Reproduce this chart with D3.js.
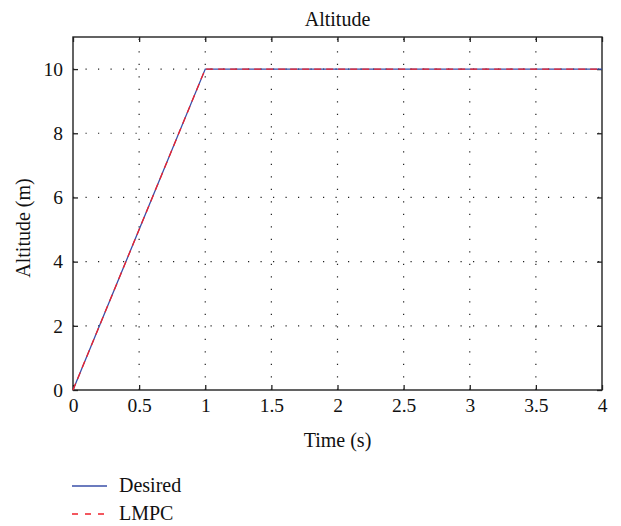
<!DOCTYPE html>
<html><head><meta charset="utf-8">
<script src="https://cdn.jsdelivr.net/npm/d3@7"></script>
<style>body{margin:0;background:#fff}svg{display:block}text{font-family:"Liberation Serif","DejaVu Serif",serif;fill:#111}</style>
</head><body>
<script>
const time = [0, 0.5, 1, 2, 3, 4];
const desired = [0, 5, 10, 10, 10, 10];
const lmpc = [0, 5, 10, 10, 10, 10];
const xTicks = [0, 0.5, 1, 1.5, 2, 2.5, 3, 3.5, 4];
const yTicks = [0, 2, 4, 6, 8, 10];
const seriesNames = ["Desired", "LMPC"];

const W = 621, H = 526;
const m = {l: 73, r: 602, t: 37, b: 390};
const FS = 19.5;
const svg = d3.select("body").append("svg").attr("width", W).attr("height", H);
const x = d3.scaleLinear().domain([0, 4]).range([m.l, m.r]);
const y = d3.scaleLinear().domain([0, 11]).range([m.b, m.t]);

// grid
const g = svg.append("g");
g.selectAll(".gx").data(xTicks.slice(1, -1)).join("line")
  .attr("x1", d => x(d)).attr("x2", d => x(d)).attr("y1", m.b).attr("y2", m.t)
  .attr("stroke", "#222").attr("stroke-width", 1.2).attr("stroke-dasharray", "1.2,11.3");
g.selectAll(".gy").data(yTicks.slice(1)).join("line")
  .attr("x1", m.l).attr("x2", m.r).attr("y1", d => y(d)).attr("y2", d => y(d))
  .attr("stroke", "#222").attr("stroke-width", 1.2).attr("stroke-dasharray", "1.2,11.3");

// axes with inward ticks
const fmt = d => String(d);
svg.append("g").attr("transform", `translate(0,${m.b})`)
  .call(d3.axisBottom(x).tickValues(xTicks).tickFormat(fmt).tickSizeInner(-5).tickSizeOuter(0).tickPadding(8))
  .call(a => { a.select(".domain").remove(); a.selectAll("text").attr("font-size", FS).attr("font-family", "Liberation Serif"); a.selectAll("line").attr("stroke", "#222").attr("stroke-width", 1.3); });
svg.append("g").attr("transform", `translate(0,${m.t})`)
  .call(d3.axisTop(x).tickValues(xTicks).tickFormat("").tickSizeInner(-5).tickSizeOuter(0))
  .call(a => { a.select(".domain").remove(); a.selectAll("line").attr("stroke", "#222").attr("stroke-width", 1.3); });
svg.append("g").attr("transform", `translate(${m.l},0)`)
  .call(d3.axisLeft(y).tickValues(yTicks).tickFormat(fmt).tickSizeInner(-5).tickSizeOuter(0).tickPadding(10))
  .call(a => { a.select(".domain").remove(); a.selectAll("text").attr("font-size", FS).attr("font-family", "Liberation Serif"); a.selectAll("line").attr("stroke", "#222").attr("stroke-width", 1.3); });
svg.append("g").attr("transform", `translate(${m.r},0)`)
  .call(d3.axisRight(y).tickValues(yTicks).tickFormat("").tickSizeInner(-5).tickSizeOuter(0))
  .call(a => { a.select(".domain").remove(); a.selectAll("line").attr("stroke", "#222").attr("stroke-width", 1.3); });

svg.append("rect").attr("x", m.l).attr("y", m.t).attr("width", m.r - m.l).attr("height", m.b - m.t)
  .attr("fill", "none").attr("stroke", "#222").attr("stroke-width", 1.4);

const line = d3.line().x((d, i) => x(time[i])).y(d => y(d));
svg.append("path").attr("d", line(desired)).attr("fill", "none").attr("stroke", "#3a4fa8").attr("stroke-width", 1.3);
svg.append("path").attr("d", line(lmpc)).attr("fill", "none").attr("stroke", "#f0202a").attr("stroke-width", 1.3).attr("stroke-dasharray", "7,5");

// labels
svg.append("text").attr("x", x(2)).attr("y", 26).attr("text-anchor", "middle").attr("font-size", 20).text("Altitude");
svg.append("text").attr("x", x(2)).attr("y", 447).attr("text-anchor", "middle").attr("font-size", 20).text("Time (s)");
svg.append("text").attr("transform", `translate(30,228) rotate(-90)`).attr("text-anchor", "middle").attr("font-size", 20).text("Altitude (m)");

// legend
const leg = svg.append("g");
const ly = [486, 514];
leg.append("line").attr("x1", 72).attr("x2", 107).attr("y1", ly[0]).attr("y2", ly[0]).attr("stroke", "#3a4fa8").attr("stroke-width", 1.3);
leg.append("line").attr("x1", 72).attr("x2", 107).attr("y1", ly[1]).attr("y2", ly[1]).attr("stroke", "#f0202a").attr("stroke-width", 1.3).attr("stroke-dasharray", "6,7");
leg.selectAll("text").data(seriesNames).join("text").attr("x", 119).attr("y", (d, i) => ly[i] + 6).attr("font-size", 20).text(d => d);
</script>
</body></html>
